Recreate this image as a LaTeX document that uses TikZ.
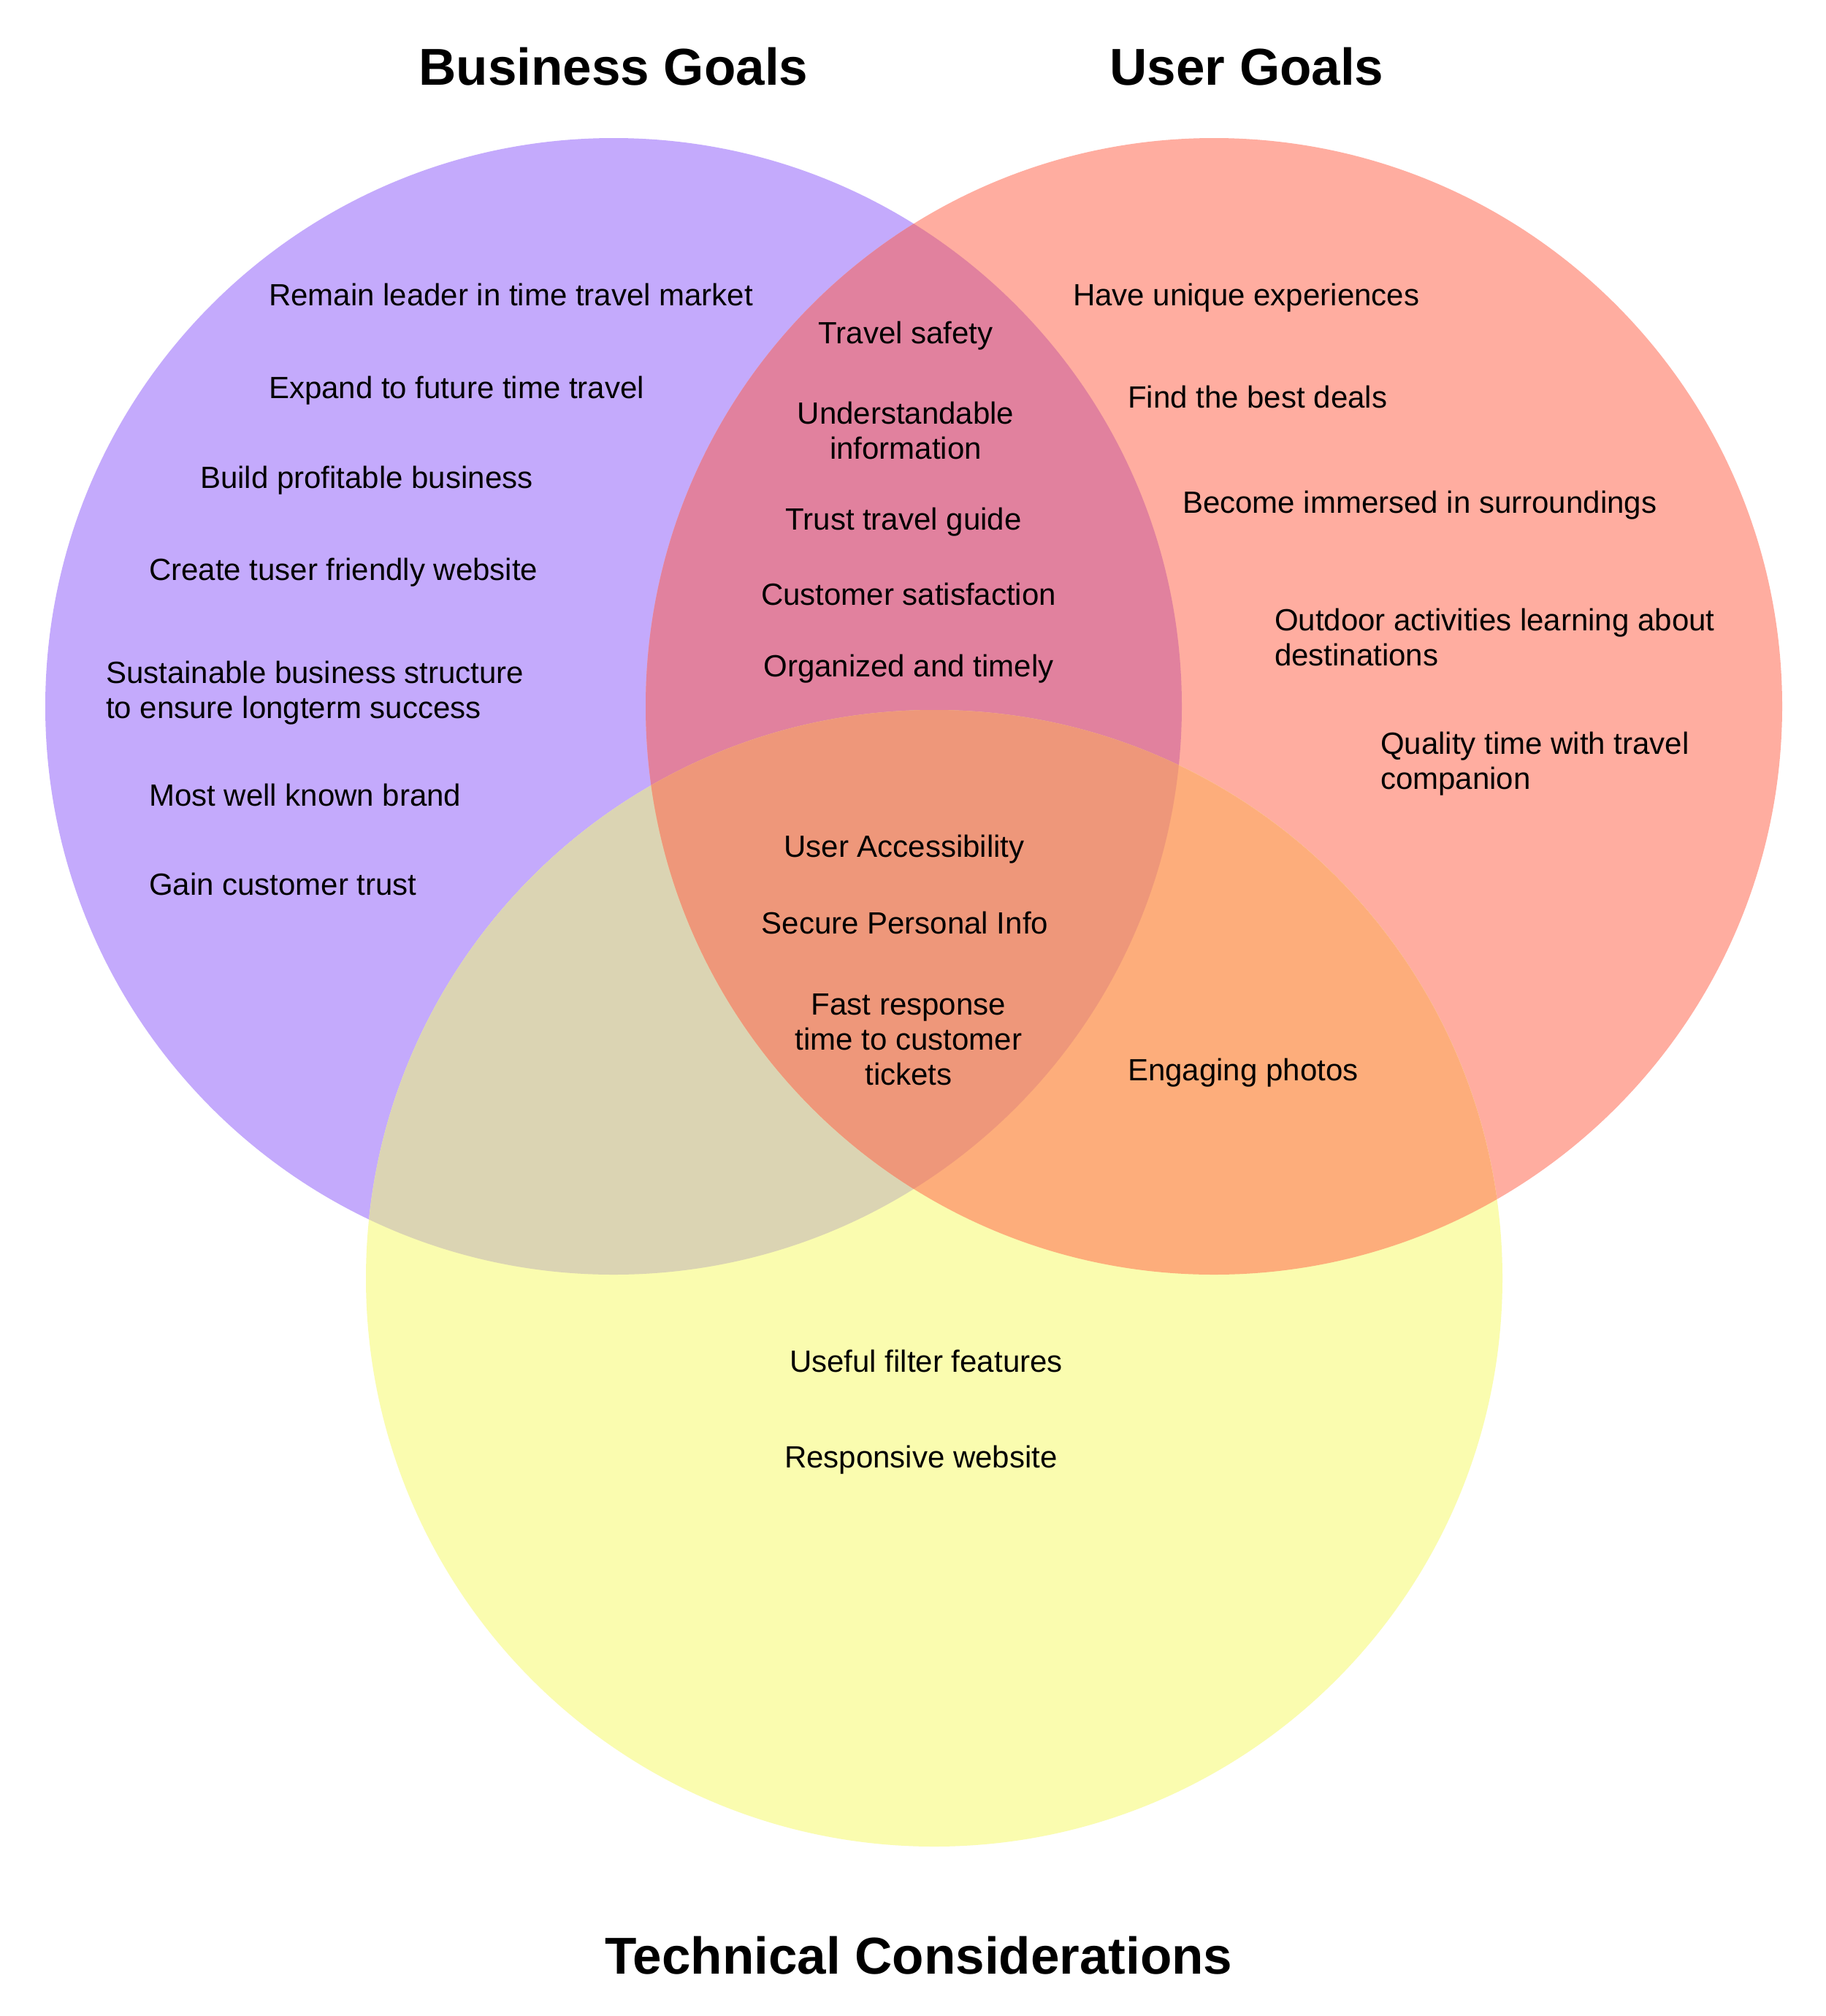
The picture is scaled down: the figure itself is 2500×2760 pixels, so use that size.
\documentclass[tikz,border=0pt]{standalone}
\usepackage{fontspec}
\setmainfont{Liberation Sans}
\definecolor{cB}{HTML}{C4AAFC}
\definecolor{cU}{HTML}{FFADA0}
\definecolor{cT}{HTML}{FAFCAF}
\definecolor{cBU}{HTML}{E1819E}
\definecolor{cBT}{HTML}{DBD4B3}
\definecolor{cUT}{HTML}{FDAD7B}
\definecolor{cBUT}{HTML}{EE977A}
\tikzset{
  lbl/.style={inner sep=0pt, font=\fontsize{42}{48}\selectfont},
  lft/.style={lbl, anchor=base west, align=left},
  ctr/.style={lbl, anchor=base, align=center},
  ttl/.style={inner sep=0pt, anchor=base, font=\fontsize{71}{80}\selectfont\bfseries}
}
\begin{document}
\begin{tikzpicture}[x=1pt,y=-1pt]
\useasboundingbox (0,0) rectangle (2500,2760);
\fill[white] (0,0) rectangle (2500,2760);
\coordinate (cb) at (840,967);
\coordinate (cu) at (1662,967);
\coordinate (ct) at (1279,1750);
\def\rr{778}
% base circles
\fill[cB] (cb) circle[radius=\rr];
\fill[cU] (cu) circle[radius=\rr];
\fill[cT] (ct) circle[radius=\rr];
% pairwise overlaps
\begin{scope}
  \clip (cb) circle[radius=\rr];
  \fill[cBU] (cu) circle[radius=\rr];
  \fill[cBT] (ct) circle[radius=\rr];
\end{scope}
\begin{scope}
  \clip (cu) circle[radius=\rr];
  \fill[cUT] (ct) circle[radius=\rr];
\end{scope}
\begin{scope}
  \clip (cb) circle[radius=\rr];
  \clip (cu) circle[radius=\rr];
  \fill[cBUT] (ct) circle[radius=\rr];
\end{scope}
% titles
\node[ttl] (tb) at (840,116) {Business Goals};
\node[ttl] (tu) at (1707,116) {User Goals};
\node[ttl] (tt) at (1258,2702) {Technical Considerations};
% business only (multi-line nodes anchored at their last baseline)
\node[lft] (b1) at (368,418) {Remain leader in time travel market};
\node[lft] (b2) at (368,545) {Expand to future time travel};
\node[lft] (b3) at (274,668) {Build profitable business};
\node[lft] (b4) at (204,794) {Create tuser friendly website};
\node[lft] (b5) at (145,983) {Sustainable business structure\\to ensure longterm success};
\node[lft] (b6) at (204,1103) {Most well known brand};
\node[lft] (b7) at (204,1225) {Gain customer trust};
% user only
\node[lft] (u1) at (1469,418) {Have unique experiences};
\node[lft] (u2) at (1544,558) {Find the best deals};
\node[lft] (u3) at (1619,702) {Become immersed in surroundings};
\node[lft] (u4) at (1745,911) {Outdoor activities learning about\\destinations};
\node[lft] (u5) at (1890,1080) {Quality time with travel\\companion};
% business and user
\node[ctr] (bu1) at (1240,470) {Travel safety};
\node[ctr] (bu2) at (1240,628) {Understandable\\information};
\node[ctr] (bu3) at (1237,725) {Trust travel guide};
\node[ctr] (bu4) at (1244,828) {Customer satisfaction};
\node[ctr] (bu5) at (1244,926) {Organized and timely};
% all three
\node[ctr] (a1) at (1238,1173) {User Accessibility};
\node[ctr] (a2) at (1239,1278) {Secure Personal Info};
\node[ctr] (a3) at (1244,1485) {Fast response\\time to customer\\tickets};
% user and technical
\node[lft] (ut1) at (1544,1479) {Engaging photos};
% technical only
\node[ctr] (t1) at (1268,1878) {Useful filter features};
\node[ctr] (t2) at (1261,2009) {Responsive website};
\end{tikzpicture}
\end{document}
